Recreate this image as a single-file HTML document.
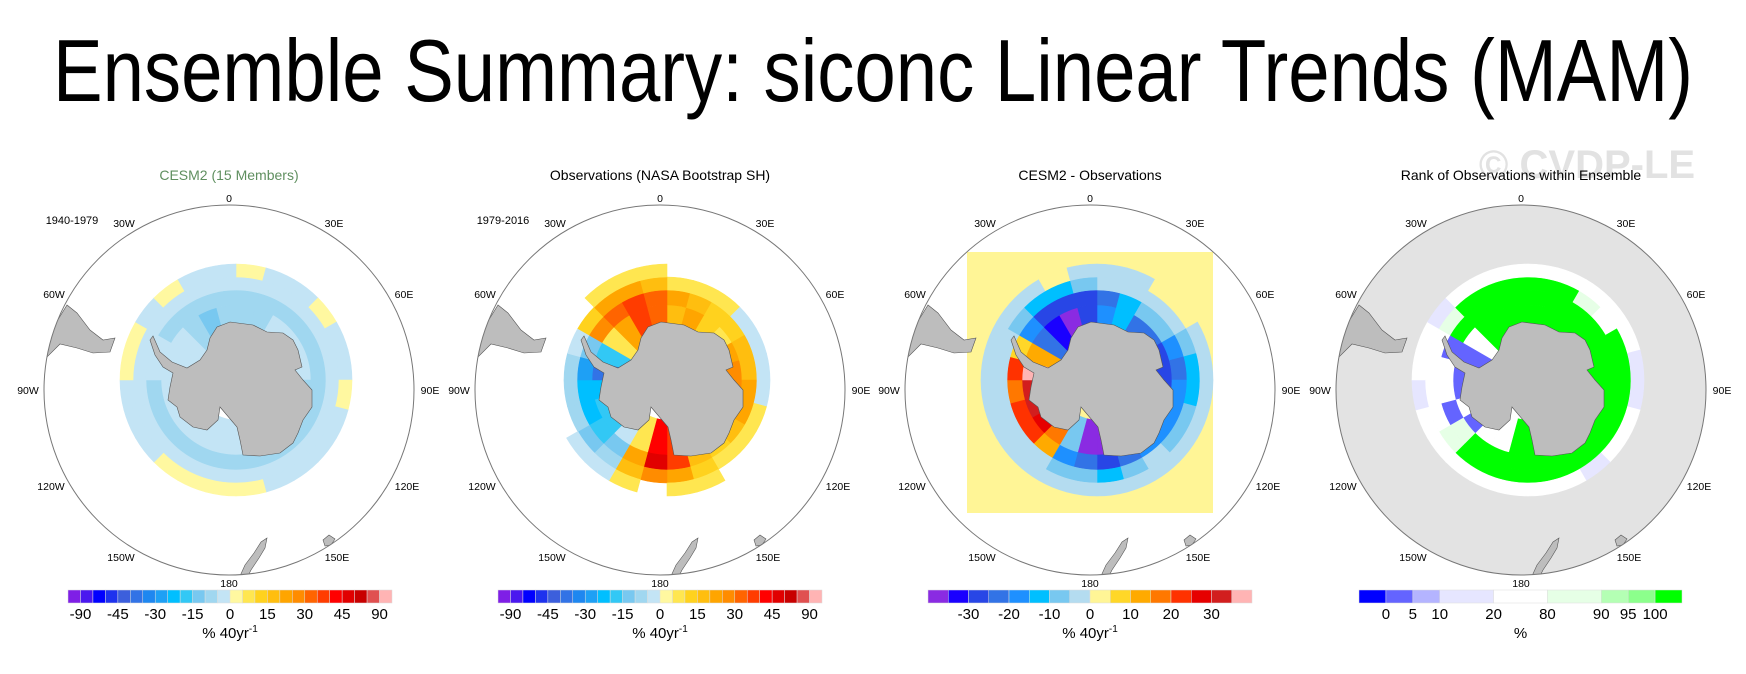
<!DOCTYPE html>
<html><head><meta charset="utf-8"><style>
html,body{margin:0;padding:0;background:#fff;}
svg{display:block;font-family:"Liberation Sans",sans-serif;}
</style></head><body>
<svg id="fig" width="1746" height="674" viewBox="0 0 1746 674">
<text x="873" y="101" text-anchor="middle" font-size="88" textLength="1640" lengthAdjust="spacingAndGlyphs" fill="#000">Ensemble Summary: siconc Linear Trends (MAM)</text>
<text x="1587" y="178" text-anchor="middle" font-size="40" font-weight="bold" fill="#e2e2e2">© CVDP-LE</text>
<g id="panels"></g>
</svg>
<script>
// ---- data: sea-ice concentration trend / rank, 24 longitude sectors (15° each from 0 eastward) x 4 rings (coast -> ice edge)
const sectorLons = [0,15,30,45,60,75,90,105,120,135,150,165,180,195,210,225,240,255,270,285,300,315,330,345];
const cesmRing0 = [-7,-7,-5,-5,-4,-4,-6,-6,-4,-4,-4,-4,-4,-4,-4,-4,-4,-4,-4,-4,-4,-8,-12,-8];
const cesmRing1 = [-8,-8,-8,-8,-7,-7,-7,-7,-8,-8,-8,-8,-8,-8,-8,-7,-7,-6,-4,-4,-6,-8,-8,-8];
const cesmRing2 = [-4,-4,-4,-4,-4,-4,-4,-4,-4,-4,-4,-4,-4,-4,-4,-4,-4,-4,-4,-4,-4,-4,-4,-4];
const cesmRing3 = [2,-3,-3,2,-3,-3,2,-3,-3,-3,-3,2,2,2,2,-3,-3,-3,2,2,-3,2,-3,-3];
const obsRing0 = [15,20,10,5,20,25,25,20,15,10,20,35,40,5,-5,-20,-20,-25,-40,-20,5,20,35,30];
const obsRing1 = [20,15,10,10,15,15,20,20,15,10,15,35,45,20,-15,-20,-25,-25,-30,-15,25,30,35,30];
const obsRing2 = [5,5,5,-5,-5,-5,-5,5,5,5,10,20,25,15,-10,-15,-10,-10,-10,-5,10,20,20,15];
const obsRing3 = [null,null,null,null,null,null,null,null,null,null,5,5,null,5,-5,-5,null,null,null,null,null,5,5,5];
const diffRing0 = [-20,-15,-25,-25,-30,-30,-30,-25,-25,-25,-30,-40,-40,-10,15,25,30,30,35,10,-25,-35,-40,-30];
const diffRing1 = [-25,-15,-10,-10,-20,-25,-20,-20,-20,-20,-25,-30,-25,-20,10,20,20,15,20,5,-20,-30,-30,-30];
const diffRing2 = [-3,-3,-3,-3,-10,-15,-15,-10,-10,-3,-10,-15,-10,-10,-3,-3,-3,-3,-3,-3,-10,-15,-15,-10];
const diffRing3 = [-3,-3,2,2,-3,-3,-3,-3,-3,-3,-3,-3,-3,-3,-3,-3,-3,-3,-3,-3,-3,-3,2,-3];
const rankRing0 = [100,100,100,100,100,100,100,100,100,100,50,100,100,50,50,2,50,2,2,2,50,100,100,100];
const rankRing1 = [100,100,100,100,100,100,100,100,100,100,100,100,100,100,100,85,2,50,50,2,100,100,100,100];
const rankRing2 = [100,100,85,50,100,100,100,100,100,100,100,100,100,100,100,85,50,50,50,50,85,100,100,100];
const rankRing3 = [50,50,50,50,50,15,15,50,50,15,50,50,50,50,50,50,50,15,50,50,15,50,50,50];

const trendLevels = [-90,-60,-50,-45,-40,-35,-30,-25,-20,-15,-10,-5,0,5,10,15,20,25,30,35,40,45,50,60,90];
const trendLabels = ["-90","-45","-30","-15","0","15","30","45","90"];
const trendLabelIdx = [0,3,6,9,12,15,18,21,24];
const trendColors = ["#7f1fe6","#4a18ef","#0000ff","#1e32ee","#3c5fdc","#3273e6","#1e87f0","#1ea0f5","#00bfff","#32c8f5","#78c8f0","#a0d7f0","#c3e4f5","#fff8a0","#ffe650","#ffd21e","#ffbe0f","#ffa500","#ff8c00","#ff6400","#ff3c00","#ff0000","#e10000","#c80000","#e05050","#ffb4b4"];
const diffLevels = [-35,-30,-25,-20,-15,-10,-5,0,5,10,15,20,25,30,35];
const diffLabels = ["-30","-20","-10","0","10","20","30"];
const diffLabelIdx = [1,3,5,7,9,11,13];
const diffColors = ["#8a2be2","#1a00ff","#2846e6","#3273e6","#1e90ff","#00bfff","#78c8f0","#b4dcf0","#fff596","#ffd728","#ffaa00","#ff7800","#ff3200","#e60000","#d21e1e","#ffb4b4"];
const rankLevels = [0,5,10,20,80,90,95,100];
const rankLabels = ["0","5","10","20","80","90","95","100"];
const rankColors = ["#0000ff","#6464ff","#b4b4ff","#e6e6ff","#ffffff","#e6ffe6","#b4ffb4","#8cff8c","#00ff00"];
const rankBoxUnits = [1,1,1,2,2,2,1,1,1];

const NS='http://www.w3.org/2000/svg';
const root=document.getElementById('panels');
function mk(tag,attrs,parent){const e=document.createElementNS(NS,tag);for(const k in attrs)e.setAttribute(k,attrs[k]);(parent||root).appendChild(e);return e;}
function classOf(v,levels){for(let i=0;i<levels.length;i++){if(v<levels[i])return i;}return levels.length;}
const ringRadii=[40,75,90,103,116];
const R=185, CY=390;
function pt(ox,oy,r,lon){const a=lon*Math.PI/180;return [ox+r*Math.sin(a),oy-r*Math.cos(a)];}
const antarctica=[[1,-68],[24,-65],[38,-58],[54,-57],[64,-50],[69,-40],[73,-23],[66,-20],[74,-10],[83,0],[83,17],[74,30],[69,43],[64,53],[51,63],[31,66],[14,65],[11,50],[8,37],[-9,17],[-11,30],[-22,40],[-36,37],[-49,27],[-52,17],[-61,10],[-59,-3],[-56,-17],[-66,-23],[-74,-35],[-79,-50],[-76,-54],[-69,-38],[-57,-28],[-42,-22],[-29,-30],[-22,-40],[-19,-52],[-12,-63]];
const samerica=[[-190,-35],[-182,-58],[-170,-72],[-162,-85],[-152,-77],[-139,-60],[-126,-50],[-114,-52],[-119,-38],[-136,-37],[-152,-42],[-169,-46],[-185,-30]];
const nz=[[11,186],[16,175],[25,163],[32,152],[38,148],[36,158],[30,168],[22,180],[17,190],[12,192]];
const tas=[[94,150],[100,145],[106,149],[102,155],[96,156]];
const lonLabels=[["0",0,-192],["30E",105,-167],["60E",175,-96],["90E",201,0],["120E",178,96],["150E",108,167],["180",0,193],["150W",-108,167],["120W",-178,96],["90W",-201,0],["60W",-175,-96],["30W",-105,-167]];
const panels=[
 {cx:229,title:"CESM2 (15 Members)",tcol:"#5f8f5f",years:"1940-1979",rings:[cesmRing0,cesmRing1,cesmRing2,cesmRing3],levels:trendLevels,colors:trendColors,labels:trendLabels,labIdx:trendLabelIdx,cb:[68,392],unit:"% 40yr",sup:true,name:"cesm2"},
 {cx:660,title:"Observations (NASA Bootstrap SH)",tcol:"#000",years:"1979-2016",rings:[obsRing0,obsRing1,obsRing2,obsRing3],levels:trendLevels,colors:trendColors,labels:trendLabels,labIdx:trendLabelIdx,cb:[498,822],unit:"% 40yr",sup:true,name:"observations"},
 {cx:1090,title:"CESM2 - Observations",tcol:"#000",years:null,rings:[diffRing0,diffRing1,diffRing2,diffRing3],levels:diffLevels,colors:diffColors,labels:diffLabels,labIdx:diffLabelIdx,cb:[928,1252],unit:"% 40yr",sup:true,name:"difference",square:true},
 {cx:1521,title:"Rank of Observations within Ensemble",tcol:"#000",years:null,rings:[rankRing0,rankRing1,rankRing2,rankRing3],levels:rankLevels,colors:rankColors,labels:rankLabels,cb:[1359,1682],unit:"%",sup:false,name:"rank",gray:true}
];
panels.forEach((p,pi)=>{
 const g=mk('g',{});
 
 
 const t=mk('text',{x:p.cx,y:180,'text-anchor':'middle','font-size':14,fill:p.tcol},g);t.textContent=p.title;
 
 
 if(p.years){const y=mk('text',{x:p.cx-157,y:224,'text-anchor':'middle','font-size':11},g);y.textContent=p.years;
  
  }
 const cp=mk('clipPath',{id:'clip'+pi},g);mk('circle',{cx:p.cx,cy:CY,r:R},cp);
 const m=mk('g',{'clip-path':'url(#clip'+pi+')'},g);
 
 
 mk('circle',{cx:p.cx,cy:CY,r:R,fill:p.gray?'#e3e3e3':'#fff'},m);
 if(p.square){const sq=mk('rect',{x:p.cx-123,y:252,width:246,height:261,fill:diffColors[classOf(2,diffLevels)]},m);
  
  }
 const ox=p.cx+7, oy=CY-10;
 if(p.gray){const w=mk('circle',{cx:ox,cy:oy,r:ringRadii[0]+20,fill:'#fff'},m);}
 p.rings.forEach((ring,ri)=>{
  ring.forEach((v,si)=>{
   if(v===null)return;
   const l0=sectorLons[si], l1=l0+15, r0=ringRadii[ri], r1=ringRadii[ri+1];
   const a=pt(ox,oy,r0,l0),b=pt(ox,oy,r1,l0),c=pt(ox,oy,r1,l1),d=pt(ox,oy,r0,l1);
   const path=`M${a[0]},${a[1]}L${b[0]},${b[1]}A${r1},${r1} 0 0 1 ${c[0]},${c[1]}L${d[0]},${d[1]}A${r0},${r0} 0 0 0 ${a[0]},${a[1]}Z`;
   const col=p.colors[classOf(v,p.levels)];
   const s=mk('path',{d:path,fill:col,stroke:col,'stroke-width':0.6},m);
   
   
  });
 });
 const poly=(pts,fill)=>{const e=mk('polygon',{points:pts.map(q=>(p.cx+q[0])+','+(CY+q[1])).join(' '),fill:fill,stroke:'#555','stroke-width':0.6},m);return e;};
 const an=poly(antarctica,'#bdbdbd');
 const sa=poly(samerica,'#bdbdbd');
 const n=poly(nz,'#bdbdbd');
 const ta=poly(tas,'#bdbdbd');
 const ring=mk('circle',{cx:p.cx,cy:CY,r:R,fill:'none',stroke:'#777','stroke-width':1},g);
 
 
 lonLabels.forEach(L=>{const e=mk('text',{x:p.cx+L[1],y:CY+L[2]+4,'text-anchor':'middle','font-size':10.5},g);e.textContent=L[0];
  
  });
 // colorbar
 const cb=mk('g',{},g);
 
 
 const x0=p.cb[0],x1=p.cb[1],n2=p.colors.length;
 const units=p.gray?rankBoxUnits:p.colors.map(()=>1);
 const tot=units.reduce((a,b)=>a+b,0);
 let x=x0;const bounds=[];
 p.colors.forEach((c,i)=>{const w=(x1-x0)*units[i]/tot;const r=mk('rect',{x:x,y:590,width:w,height:13,fill:c,stroke:'#ddd','stroke-width':0.5},cb);
  
  
  x+=w;bounds.push(x);});
 p.labels.forEach((lab,i)=>{const bi=p.labIdx?p.labIdx[i]:i;const e=mk('text',{x:bounds[bi],y:619,'text-anchor':'middle','font-size':15},cb);e.textContent=lab;
  
  });
 const u=mk('text',{x:(x0+x1)/2,y:638,'text-anchor':'middle','font-size':15},cb);
 
 
 u.textContent=p.unit;
 if(p.sup){const s=mk('tspan',{dy:-6,'font-size':10},u);s.textContent='-1';}
});
</script>
</body></html>
